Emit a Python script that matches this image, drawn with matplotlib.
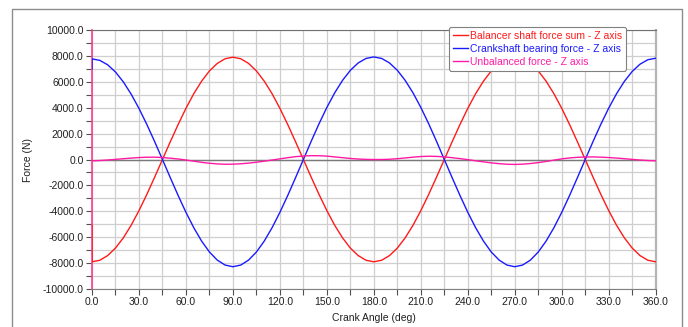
import matplotlib
matplotlib.use("Agg")
import matplotlib.pyplot as plt
from matplotlib.patches import Rectangle

plt.rcParams['font.family'] = ['Liberation Sans', 'DejaVu Sans']

# ---------------- data ----------------
angle = [0] + list(range(0, 361, 5))

balancer = [-5100,
    -7900, -7780, -7420, -6840, -6050, -5080, -3950, -2700, -1370, 0, 1370, 2700, 3950, 5080, 6050, 6840, 7420, 7780, 7900,
    7780, 7420, 6840, 6050, 5080, 3950, 2700, 1370, 0, -1370, -2700, -3950, -5080, -6050, -6840, -7420, -7780, -7900,
    -7780, -7420, -6840, -6050, -5080, -3950, -2700, -1370, 0, 1370, 2700, 3950, 5080, 6050, 6840, 7420, 7780, 7900,
    7780, 7420, 6840, 6050, 5080, 3950, 2700, 1370, 0, -1370, -2700, -3950, -5080, -6050, -6840, -7420, -7780, -7900]

crankshaft = [7000,
    7770, 7655, 7314, 6756, 5994, 5049, 3944, 2711, 1383, 0,
    -1403, -2778, -4080, -5267, -6300, -7143, -7767, -8151, -8280,
    -8151, -7767, -7143, -6300, -5267, -4080, -2778, -1403, 0,
    1410, 2764, 4021, 5147, 6111, 6887, 7456, 7803, 7920,
    7803, 7456, 6887, 6111, 5147, 4021, 2764, 1410, 0,
    -1403, -2778, -4080, -5267, -6300, -7143, -7767, -8151, -8280,
    -8151, -7767, -7143, -6300, -5267, -4080, -2778, -1403, 0,
    1393, 2729, 3970, 5082, 6034, 6801, 7362, 7705, 7820]

unbalanced = [-100,
    -100, -80, -40, 10, 60, 110, 150, 175, 180, 150, 100, 40, -40, -130, -220, -290, -340, -365, -360,
    -330, -280, -210, -130, -40, 50, 140, 220, 270, 295, 290, 260, 200, 140, 80, 35, 10, 0,
    0, 20, 60, 120, 180, 230, 250, 240, 200, 140, 70, -10, -100, -180, -260, -320, -365, -380,
    -360, -310, -240, -150, -50, 50, 120, 170, 195, 200, 180, 150, 110, 60, 10, -40, -80, -100]

series_labels = ["Balancer shaft force sum - Z axis",
                 "Crankshaft bearing force - Z axis",
                 "Unbalanced force - Z axis"]
x_ticks = [0, 30, 60, 90, 120, 150, 180, 210, 240, 270, 300, 330, 360]
y_ticks = list(range(-10000, 10001, 2000))

# ---------------- figure ----------------
W, H = 688, 327
fig = plt.figure(figsize=(W / 100, H / 100), dpi=100)
fig.patch.set_facecolor('white')

# outer frame
fig.add_artist(Rectangle((12 / W, -0.05), (682 - 12) / W, 1 - 9 / H + 0.05,
                         transform=fig.transFigure, fill=False,
                         edgecolor='#8c8c8c', linewidth=1.0))

ax = fig.add_axes([92 / W, 1 - 289 / H, (655.7 - 92) / W, (289 - 30) / H])

ax.set_xlim(0, 360)
ax.set_ylim(-10000, 10000)

# grid
ax.set_xticks(list(range(0, 361, 15)), minor=True)
ax.set_yticks(list(range(-10000, 10001, 1000)), minor=True)
ax.grid(which='minor', color='#cfcfcf', linewidth=0.9)
ax.grid(which='major', color='#cfcfcf', linewidth=0.9)
ax.set_axisbelow(True)
ax.axhline(0, color='#7a7a7a', linewidth=1.0, zorder=1.5)

ax.plot(angle, balancer, color='#ff1a1a', linewidth=1.0, label=series_labels[0], zorder=3)
ax.plot(angle, crankshaft, color='#1a1aff', linewidth=1.0, label=series_labels[1], zorder=3)
ax.plot(angle, unbalanced, color='#ff1aa6', linewidth=1.0, label=series_labels[2], zorder=4)

ax.set_xticks(x_ticks)
ax.set_xticklabels([f"{v:.1f}" for v in x_ticks])
ax.set_yticks(y_ticks)
ax.set_yticklabels([f"{v:.1f}" for v in y_ticks])

ax.tick_params(which='both', direction='out', length=4, width=0.8, color='#505050',
               labelsize=7.5, labelcolor='#202020', pad=2)

ax.spines['top'].set_color('#707070')
ax.spines['bottom'].set_color('#808080')
ax.spines['right'].set_color('#b4b4b4')
ax.spines['right'].set_linewidth(1.6)
ax.spines['left'].set_color('#ff3c8c')
ax.spines['left'].set_linewidth(1.2)

ax.set_xlabel("Crank Angle (deg)", fontsize=7.5, color='#202020', labelpad=4)
ax.set_ylabel("Force (N)", fontsize=7.5, color='#202020', labelpad=7)

leg = fig.legend(loc='upper left', bbox_to_anchor=(449 / W, 1 - 27 / H),
                 borderaxespad=0, fontsize=7.5, labelcolor='linecolor',
                 handlelength=1.5, handletextpad=0.2, labelspacing=0.3,
                 borderpad=0.35, frameon=True, fancybox=True, framealpha=1)
leg.get_frame().set_edgecolor('#808080')
leg.get_frame().set_linewidth(0.8)

fig.savefig("out.png", dpi=100)
